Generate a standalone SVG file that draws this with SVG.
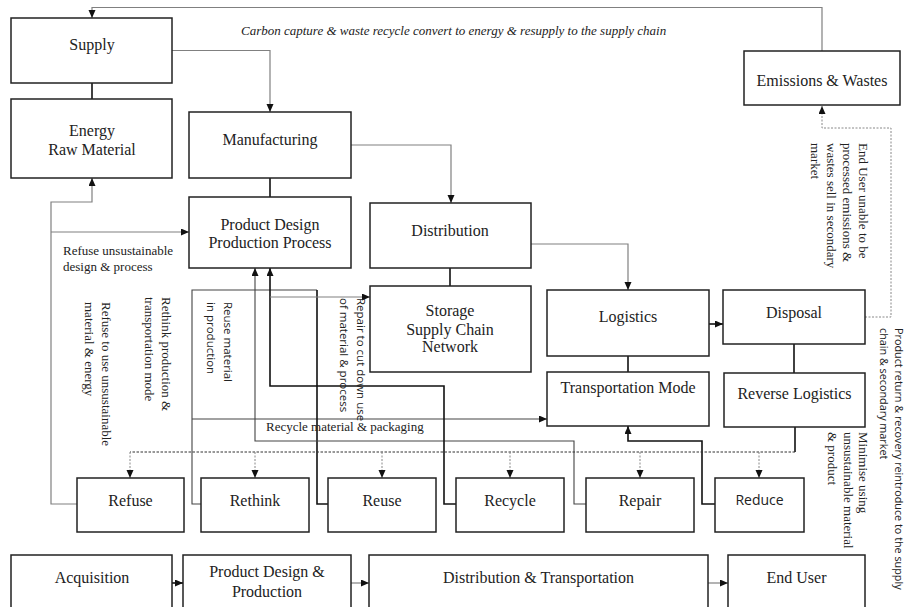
<svg xmlns="http://www.w3.org/2000/svg" width="907" height="607" viewBox="0 0 907 607">
<defs>
<marker id="arr" markerUnits="userSpaceOnUse" markerWidth="9" markerHeight="8" refX="8" refY="3.5" orient="auto">
<path d="M0,0 L8,3.5 L0,7 z" fill="#111"/>
</marker>
<style>
.box{fill:#fff;stroke:#222;stroke-width:1.5}
.t{font-family:"Liberation Serif","Times New Roman",serif;font-size:16px;fill:#222;text-anchor:middle}
.ts{font-family:"Open Sans","Liberation Sans",sans-serif;font-size:14px;fill:#222;text-anchor:middle}
.a{font-family:"Liberation Serif","Times New Roman",serif;font-size:13px;fill:#222}
.as{font-family:"Open Sans","Liberation Sans",sans-serif;font-size:11.5px;fill:#222}
.it{font-style:italic}
.g{fill:none;stroke:#808080;stroke-width:1.2}
.d{fill:none;stroke:#444;stroke-width:1.1}
.k{fill:none;stroke:#111;stroke-width:1.6}
.dash{fill:none;stroke:#333;stroke-width:1;stroke-dasharray:2.5,1.5}
.dot{fill:none;stroke:#888;stroke-width:1;stroke-dasharray:2,1.5}
</style>
</defs>
<rect width="907" height="607" fill="#fff"/>

<g id="connectors">
<path class="g" d="M822,51 V7.5 H92 V18" marker-end="url(#arr)"/>
<path class="g" d="M172,50.5 H270 V112" marker-end="url(#arr)"/>
<path class="g" d="M351,145 H451 V203" marker-end="url(#arr)"/>
<path class="g" d="M531,244 H628 V290" marker-end="url(#arr)"/>
<path class="k" d="M92,83 V99"/>
<path class="k" d="M270,178 V197"/>
<path class="k" d="M450,268 V286"/>
<path class="k" d="M628,356 V372"/>
<path class="k" d="M794,344 V373"/>
<path class="k" d="M709,324 H723" marker-end="url(#arr)"/>
<path class="dot" d="M865,317 H891 V128 H822 V106" marker-end="url(#arr)"/>
<path class="g" d="M77,504 H51 V202 H92 V178" marker-end="url(#arr)"/>
<path class="g" d="M51,232 H189" marker-end="url(#arr)"/>
<path class="d" d="M201,504 H192 V290 H317"/>
<path class="d" d="M192,419 H547" marker-end="url(#arr)"/>
<path class="k" d="M328,504 H317 V290"/>
<path class="d" d="M586,504 H574 V441 H255 V268" marker-end="url(#arr)"/>
<path class="k" d="M456,504 H444 V386 H270 V268" marker-end="url(#arr)"/>
<path class="g" d="M270,297 H370" marker-end="url(#arr)"/>
<path class="k" d="M715,504 H702 V441 H628 V426" marker-end="url(#arr)"/>
<path class="k" d="M795,427 V452"/>
<path class="dash" d="M795,452 H130"/>
<path class="dot" d="M130,452 V478" marker-end="url(#arr)"/>
<path class="dot" d="M255,452 V478" marker-end="url(#arr)"/>
<path class="dot" d="M382,452 V478" marker-end="url(#arr)"/>
<path class="dot" d="M510,452 V478" marker-end="url(#arr)"/>
<path class="dot" d="M640,452 V478" marker-end="url(#arr)"/>
<path class="dot" d="M759,452 V478" marker-end="url(#arr)"/>
<path class="k" d="M172,583 H183" marker-end="url(#arr)"/>
<path class="g" d="M351,583 H369" marker-end="url(#arr)"/>
<path class="g" d="M708,583 H728" marker-end="url(#arr)"/>
</g>

<g id="labels">
<text class="a it" x="241" y="35">Carbon capture &amp; waste recycle convert to energy &amp; resupply to the supply chain</text>
<text class="a" x="63" y="255">Refuse unsustainable</text>
<text class="a" x="63" y="271">design &amp; process</text>
<text class="a" x="266" y="431">Recycle material &amp; packaging</text>
<text class="a" transform="translate(102,302) rotate(90)"><tspan x="0" dy="0">Refuse to use unsustainable</tspan><tspan x="0" dy="17">material &amp; energy</tspan></text>
<text class="a" transform="translate(162,297) rotate(90)"><tspan x="0" dy="0">Rethink production &amp;</tspan><tspan x="0" dy="17">transportation mode</tspan></text>
<text class="as" transform="translate(224,302) rotate(90)"><tspan x="0" dy="0">Reuse material</tspan><tspan x="0" dy="17">in production</tspan></text>
<text class="as" transform="translate(357,298) rotate(90)"><tspan x="0" dy="0">Repair to cut down use</tspan><tspan x="0" dy="17">of material &amp; process</tspan></text>
<text class="a" transform="translate(859,143) rotate(90)"><tspan x="0" dy="0">End User unable to be</tspan><tspan x="0" dy="16">processed emissions &amp;</tspan><tspan x="0" dy="16">wastes sell in secondary</tspan><tspan x="0" dy="16">market</tspan></text>
<text class="as" style="font-size:10.8px" transform="translate(895,328) rotate(90)"><tspan x="0" dy="0">Product return &amp; recovery reintroduce to the supply</tspan><tspan x="0" dy="15">chain &amp; secondary market</tspan></text>
<text class="a" transform="translate(859,432) rotate(90)"><tspan x="0" dy="0">Minimise using</tspan><tspan x="0" dy="15.5">unsustainable material</tspan><tspan x="0" dy="15.5">&amp; product</tspan></text>
</g>

<g id="supply"><rect class="box" x="11" y="18" width="161" height="65"/><text class="t" x="92" y="50">Supply</text></g>
<g id="energy"><rect class="box" x="11" y="99" width="161" height="79"/><text class="t" x="92" y="136">Energy</text><text class="t" x="92" y="154.5">Raw Material</text></g>
<g id="manufacturing"><rect class="box" x="189" y="112" width="162" height="66"/><text class="t" x="270" y="145">Manufacturing</text></g>
<g id="product-design"><rect class="box" x="189" y="197" width="162" height="71"/><text class="t" x="270" y="229.5">Product Design</text><text class="t" x="270" y="248">Production Process</text></g>
<g id="distribution"><rect class="box" x="370" y="203" width="161" height="65"/><text class="t" x="450" y="235.5">Distribution</text></g>
<g id="storage"><rect class="box" x="370" y="286" width="161" height="86"/><text class="t" x="450" y="316">Storage</text><text class="t" x="450" y="334.5">Supply Chain</text><text class="t" x="450" y="352">Network</text></g>
<g id="logistics"><rect class="box" x="547" y="290" width="162" height="66"/><text class="t" x="628" y="322">Logistics</text></g>
<g id="disposal"><rect class="box" x="723" y="290" width="142" height="54"/><text class="t" x="794" y="317.5">Disposal</text></g>
<g id="transportation-mode"><rect class="box" x="547" y="372" width="162" height="54"/><text class="t" x="628" y="392.5">Transportation Mode</text></g>
<g id="reverse-logistics"><rect class="box" x="724" y="373" width="141" height="54"/><text class="t" x="794.5" y="398.5">Reverse Logistics</text></g>
<g id="emissions"><rect class="box" x="744" y="51" width="156" height="54"/><text class="t" x="822" y="85.5">Emissions &amp; Wastes</text></g>
<g id="refuse"><rect class="box" x="77" y="478" width="107" height="54"/><text class="t" x="130.5" y="505.5">Refuse</text></g>
<g id="rethink"><rect class="box" x="201" y="478" width="108" height="54"/><text class="t" x="255" y="505.5">Rethink</text></g>
<g id="reuse"><rect class="box" x="328" y="478" width="108" height="54"/><text class="t" x="382" y="505.5">Reuse</text></g>
<g id="recycle"><rect class="box" x="456" y="478" width="108" height="54"/><text class="t" x="510" y="505.5">Recycle</text></g>
<g id="repair"><rect class="box" x="586" y="478" width="108" height="54"/><text class="t" x="640" y="505.5">Repair</text></g>
<g id="reduce"><rect class="box" x="715" y="478" width="89" height="54"/><text class="ts" x="759.5" y="505">Reduce</text></g>
<g id="acquisition"><rect class="box" x="11" y="555" width="161" height="62"/><text class="t" x="92" y="582.5">Acquisition</text></g>
<g id="pd-production"><rect class="box" x="183" y="555" width="168" height="62"/><text class="t" x="267" y="577">Product Design &amp;</text><text class="t" x="267" y="596.5">Production</text></g>
<g id="dist-transport"><rect class="box" x="369" y="555" width="339" height="62"/><text class="t" x="538.5" y="582.5">Distribution &amp; Transportation</text></g>
<g id="end-user"><rect class="box" x="728" y="555" width="137" height="62"/><text class="t" x="796.5" y="582.5">End User</text></g>
</svg>
